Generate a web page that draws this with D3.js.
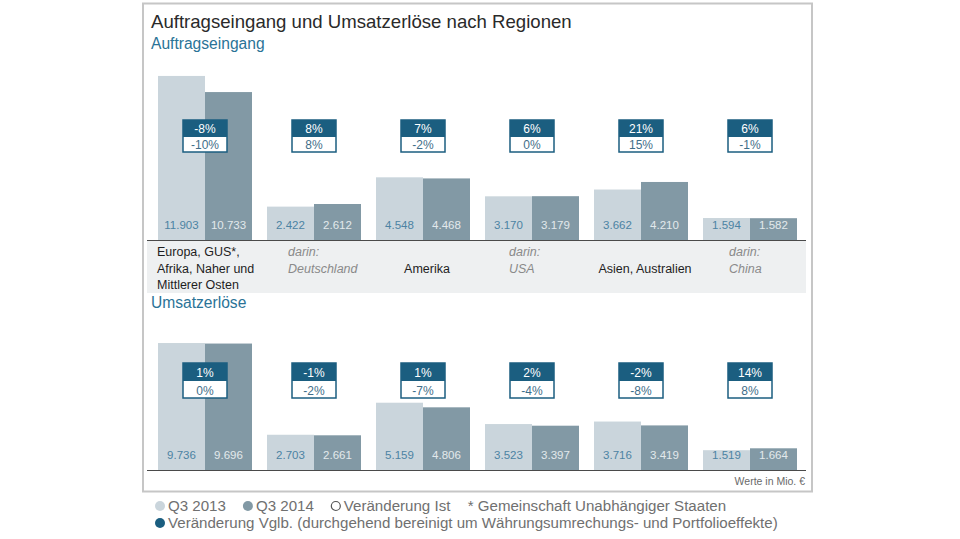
<!DOCTYPE html>
<html>
<head>
<meta charset="utf-8">
<script src="https://cdn.jsdelivr.net/npm/d3@7"></script>
<style>
  body { margin: 0; background: #fff; }
  svg text { font-family: "Liberation Sans", "DejaVu Sans", sans-serif; }
</style>
</head>
<body>
<div id="chart"></div>
<script>
// category labels (one entry per line)
var categoryLines = [
  ["Europa, GUS*,", "Afrika, Naher und", "Mittlerer Osten"],
  ["darin:", "Deutschland"],
  ["Amerika"],
  ["darin:", "USA"],
  ["Asien, Australien"],
  ["darin:", "China"]
];
var categories = categoryLines.map(function(l){ return l.join(" "); });
var subRegion = [false, true, false, true, false, true];

// Auftragseingang, Mio. EUR
var ordersQ3_2013 = [11903, 2422, 4548, 3170, 3662, 1594];
var ordersQ3_2014 = [10733, 2612, 4468, 3179, 4210, 1582];
var ordersChangeVgl = [-8, 8, 7, 6, 21, 6];
var ordersChangeIst = [-10, 8, -2, 0, 15, -1];

// Umsatzerlöse, Mio. EUR
var revenueQ3_2013 = [9736, 2703, 5159, 3523, 3716, 1519];
var revenueQ3_2014 = [9696, 2661, 4806, 3397, 3419, 1664];
var revenueChangeVgl = [1, -1, 1, 2, -2, 14];
var revenueChangeIst = [0, -2, -7, -4, -8, 8];

var series = ["Q3 2013", "Q3 2014"];

var width = 960, height = 539;
var color_light = "#cad5dc", color_dark = "#8299a5", color_blue = "#1b5e80",
    color_title = "#2a2a2a", color_sub = "#2a7397";

var svg = d3.select("#chart").append("svg")
    .attr("width", width)
    .attr("height", height);

// frame
svg.append("rect")
    .attr("x", 143).attr("y", 3.5)
    .attr("width", 669).attr("height", 488)
    .attr("fill", "#fff")
    .attr("stroke", "#c6c6c6")
    .attr("stroke-width", 2);

svg.append("text")
    .attr("x", 151).attr("y", 28)
    .attr("font-size", 18.6)
    .attr("fill", color_title)
    .text("Auftragseingang und Umsatzerlöse nach Regionen");

// grey label band under upper chart
svg.append("rect")
    .attr("x", 147).attr("y", 240)
    .attr("width", 659).attr("height", 53)
    .attr("fill", "#eef0f1");

var x = d3.scaleBand()
    .domain(categories)
    .range([150.5, 804.5])
    .paddingInner(15 / 109)
    .paddingOuter(7.5 / 109);

var xs = d3.scaleBand()
    .domain(series)
    .range([0, x.bandwidth()]);

function pct(v) { return v + "%"; }

function drawPanel(cfg) {
  var y = d3.scaleLinear().domain([0, 12000]).range([cfg.base, cfg.base - cfg.h]);

  svg.append("text")
      .attr("x", 151).attr("y", cfg.subY)
      .attr("font-size", 15.6)
      .attr("fill", color_sub)
      .text(cfg.title);

  var rows = categories.map(function(c, i){
    return { cat: c, vals: [cfg.a[i], cfg.b[i]], vgl: cfg.vgl[i], ist: cfg.ist[i] };
  });

  var g = svg.append("g").selectAll("g.group")
      .data(rows)
    .enter().append("g")
      .attr("class", "group")
      .attr("transform", function(d){ return "translate(" + x(d.cat) + ",0)"; });

  g.selectAll("rect.bar")
      .data(function(d){ return d.vals.map(function(v, j){ return { s: series[j], v: v }; }); })
    .enter().append("rect")
      .attr("class", "bar")
      .attr("x", function(d){ return xs(d.s); })
      .attr("width", xs.bandwidth())
      .attr("y", function(d){ return y(d.v); })
      .attr("height", function(d){ return cfg.base - y(d.v); })
      .attr("fill", function(d, j){ return j === 0 ? color_light : color_dark; });

  g.selectAll("text.val")
      .data(function(d){ return d.vals.map(function(v, j){ return { s: series[j], v: v }; }); })
    .enter().append("text")
      .attr("class", "val")
      .attr("x", function(d){ return xs(d.s) + xs.bandwidth() / 2; })
      .attr("y", cfg.base - 11)
      .attr("text-anchor", "middle")
      .attr("font-size", 11.5)
      .attr("fill", function(d, j){ return j === 0 ? "#4c83a3" : "#e3e9ec"; })
      .text(function(d){ return d3.format(",")(d.v).replace(/,/g, "."); });

  // change boxes
  var bw = 44, cx = x.bandwidth() / 2;
  g.append("rect")
      .attr("x", cx - bw / 2).attr("y", cfg.boxY)
      .attr("width", bw).attr("height", cfg.hh + cfg.lh)
      .attr("fill", "#fff")
      .attr("stroke", color_blue)
      .attr("stroke-width", 1.5);
  g.append("rect")
      .attr("x", cx - bw / 2).attr("y", cfg.boxY)
      .attr("width", bw).attr("height", cfg.hh)
      .attr("fill", color_blue);
  g.append("text")
      .attr("x", cx).attr("y", cfg.boxY + cfg.hh - 4)
      .attr("text-anchor", "middle")
      .attr("font-size", 12)
      .attr("fill", "#fff")
      .text(function(d){ return pct(d.vgl); });
  g.append("text")
      .attr("x", cx).attr("y", cfg.boxY + cfg.hh + cfg.lh - 3.5)
      .attr("text-anchor", "middle")
      .attr("font-size", 12)
      .attr("fill", "#3f6e89")
      .text(function(d){ return pct(d.ist); });

  svg.append("line")
      .attr("x1", 147).attr("x2", 806)
      .attr("y1", cfg.base + 0.5).attr("y2", cfg.base + 0.5)
      .attr("stroke", "#4a4a4a")
      .attr("stroke-width", 1);
}

drawPanel({ title: "Auftragseingang", subY: 49, base: 240, h: 165.4,
            a: ordersQ3_2013, b: ordersQ3_2014, vgl: ordersChangeVgl, ist: ordersChangeIst,
            boxY: 120, hh: 17, lh: 15 });

drawPanel({ title: "Umsatzerlöse", subY: 308, base: 470, h: 156.5,
            a: revenueQ3_2013, b: revenueQ3_2014, vgl: revenueChangeVgl, ist: revenueChangeIst,
            boxY: 363, hh: 18, lh: 17 });

// category labels in the band
var labelOffset = [-1, 21, null, 24, null, 26];
var lab = svg.append("g").selectAll("text.cat")
    .data(categoryLines)
  .enter().append("text")
    .attr("class", "cat")
    .attr("font-size", 12.5)
    .attr("font-style", function(d, i){ return subRegion[i] ? "italic" : "normal"; })
    .attr("fill", function(d, i){ return subRegion[i] ? "#8a8a8a" : "#1e1e1e"; })
    .attr("text-anchor", function(d, i){ return labelOffset[i] === null ? "middle" : "start"; })
    .attr("transform", function(d, i){
      var cx = labelOffset[i] === null ? x(categories[i]) + x.bandwidth() / 2 + 4 : x(categories[i]) + labelOffset[i];
      return "translate(" + cx + ",256)";
    });
lab.selectAll("tspan")
    .data(function(d, i){
      // single-line labels sit on the second row
      return d.length === 1 ? [{ t: d[0], k: 1 }] : d.map(function(t, k){ return { t: t, k: k }; });
    })
  .enter().append("tspan")
    .attr("x", 0)
    .attr("y", function(d){ return d.k * 16.5; })
    .text(function(d){ return d.t; });

svg.append("text")
    .attr("x", 805).attr("y", 485)
    .attr("text-anchor", "end")
    .attr("font-size", 10.5)
    .attr("fill", "#6a6a6a")
    .text("Werte in Mio. €");

// legend, laid out left to right per row
var legendItems = [
  { row: 0, label: "Q3 2013", fill: color_light, stroke: "none" },
  { row: 0, label: "Q3 2014", fill: color_dark, stroke: "none" },
  { row: 0, label: "Veränderung Ist", fill: "#fff", stroke: "#555" },
  { row: 0, label: "* Gemeinschaft Unabhängiger Staaten", fill: null },
  { row: 1, label: "Veränderung Vglb. (durchgehend bereinigt um Währungsumrechungs- und Portfolioeffekte)", fill: color_blue, stroke: "none" }
];
var rowY = [506, 523], rowX = [155, 155];
var li = svg.append("g").selectAll("g.leg")
    .data(legendItems)
  .enter().append("g");
li.filter(function(d){ return d.fill; }).append("circle")
    .attr("cx", 5)
    .attr("r", function(d){ return d.stroke === "none" ? 5 : 4.5; })
    .attr("fill", function(d){ return d.fill; })
    .attr("stroke", function(d){ return d.stroke; })
    .attr("stroke-width", 1.2);
li.append("text")
    .attr("x", function(d){ return d.fill ? 13 : 0; })
    .attr("y", 5)
    .attr("font-size", 15.1)
    .attr("fill", "#707070")
    .text(function(d){ return d.label; });
li.attr("transform", function(d){
  var w = this.getBBox().width;
  var tx = rowX[d.row];
  rowX[d.row] += w + 17;
  return "translate(" + tx + "," + rowY[d.row] + ")";
});
</script>
</body>
</html>
